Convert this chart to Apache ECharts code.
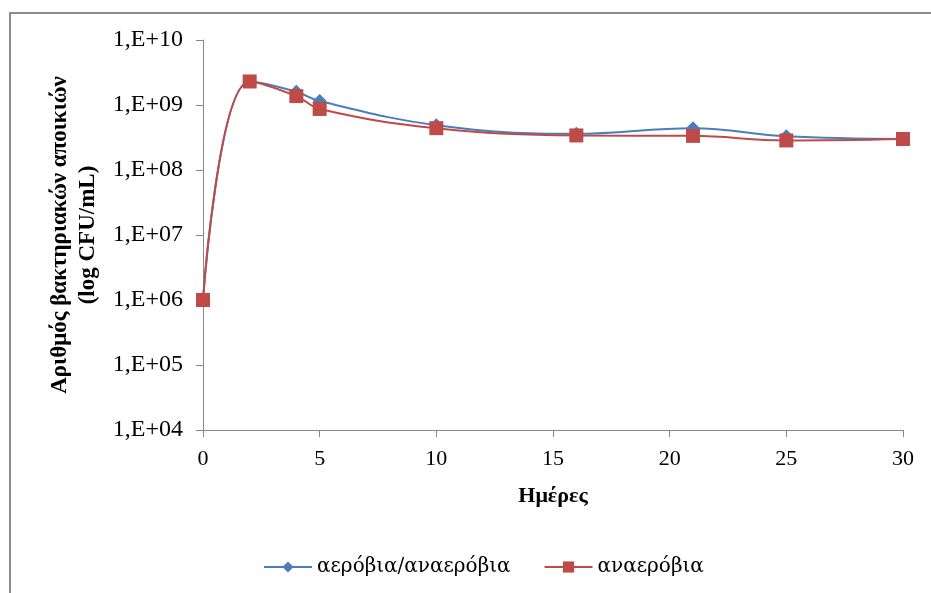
<!DOCTYPE html>
<html>
<head>
<meta charset="utf-8">
<script src="https://cdn.jsdelivr.net/npm/echarts@6/dist/echarts.min.js"></script>
<style>
html, body { margin: 0; padding: 0; background: #fff; }
#main { width: 931px; height: 593px; }
</style>
</head>
<body>
<div id="main"></div>
<script>
var days = [0, 2, 4, 5, 10, 16, 21, 25, 30];
var aerobic = [1e6, 2.3e9, 1.6e9, 1.15e9, 4.9e8, 3.6e8, 4.4e8, 3.3e8, 3.0e8];
var anaerobic = [1e6, 2.3e9, 1.37e9, 8.7e8, 4.4e8, 3.4e8, 3.35e8, 2.85e8, 3.0e8];
var yTicks = ['1,E+04', '1,E+05', '1,E+06', '1,E+07', '1,E+08', '1,E+09', '1,E+10'];

function pairs(xs, ys) {
    var out = [];
    for (var i = 0; i < xs.length; i++) {
        out.push([xs[i], ys[i]]);
    }
    return out;
}

var myChart = echarts.init(document.getElementById('main'));
var font = 'Liberation Serif';
var option = {
    backgroundColor: '#fff',
    animation: false,
    textStyle: { fontFamily: font },
    graphic: [{
        type: 'rect',
        shape: { x: 10, y: 13, width: 960, height: 620 },
        style: { fill: 'none', stroke: '#8c8c8c', lineWidth: 2 }
    }],
    grid: { left: 203, right: 28, top: 40, bottom: 163 },
    legend: {
        top: 552,
        left: 258,
        itemWidth: 48,
        itemHeight: 14,
        itemGap: 33,
        itemTextGap: 7,
        textStyle: { fontFamily: 'DejaVu Serif', fontSize: 20, color: '#000' },
        data: ['αερόβια/αναερόβια', 'αναερόβια']
    },
    xAxis: {
        type: 'value',
        min: 0,
        max: 30,
        interval: 5,
        name: 'Ημέρες',
        nameLocation: 'middle',
        nameGap: 55,
        nameTextStyle: { fontFamily: font, fontSize: 22, fontWeight: 'bold', color: '#000' },
        splitLine: { show: false },
        axisLine: { lineStyle: { color: '#888' } },
        axisTick: { show: true, length: 7, lineStyle: { color: '#888' } },
        axisLabel: { fontFamily: font, fontSize: 22, color: '#000', margin: 18 }
    },
    yAxis: {
        type: 'log',
        logBase: 10,
        min: 1e4,
        max: 1e10,
        name: 'Αριθμός βακτηριακών αποικιών\n(log CFU/mL)',
        nameLocation: 'middle',
        nameGap: 99,
        nameRotate: 90,
        nameTextStyle: { fontFamily: font, fontSize: 23, fontWeight: 'bold', color: '#000', lineHeight: 28 },
        splitLine: { show: false },
        axisLine: { show: true, lineStyle: { color: '#888' } },
        axisTick: { show: true, length: 7, lineStyle: { color: '#888' } },
        axisLabel: {
            fontFamily: font, fontSize: 24, color: '#000', margin: 20,
            formatter: function (v) {
                var e = Math.round(Math.log10(v));
                return yTicks[e - 4];
            }
        }
    },
    series: [{
        name: 'αερόβια/αναερόβια',
        type: 'line',
        smooth: 0.4,
        data: pairs(days, aerobic),
        symbol: 'diamond',
        symbolSize: 14,
        itemStyle: { color: '#4a7ebb' },
        lineStyle: { color: '#4a7ebb', width: 2 },
        z: 2
    }, {
        name: 'αναερόβια',
        type: 'line',
        smooth: 0.4,
        data: pairs(days, anaerobic),
        symbol: 'rect',
        symbolSize: 14,
        itemStyle: { color: '#be4b48' },
        lineStyle: { color: '#be4b48', width: 2 },
        z: 3
    }]
};
myChart.setOption(option);
</script>
</body>
</html>
